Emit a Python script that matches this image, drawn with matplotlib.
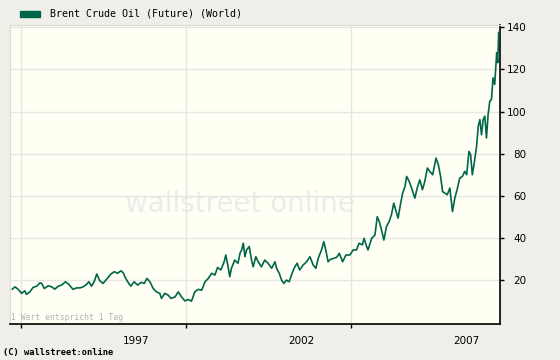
import matplotlib
matplotlib.use("Agg")
import matplotlib.pyplot as plt
import numpy as np

# Brent crude (decimal year, USD)
years = [1993.74, 1993.82, 1993.92, 1994.02, 1994.12, 1994.17, 1994.27, 1994.37, 1994.48, 1994.58,
         1994.63, 1994.71, 1994.83, 1994.93, 1995.03, 1995.13, 1995.23, 1995.35, 1995.45, 1995.58,
         1995.69, 1995.79, 1995.89, 1995.99, 1996.06, 1996.14, 1996.22, 1996.30, 1996.39, 1996.49,
         1996.60, 1996.73, 1996.83, 1996.93, 1997.03, 1997.10, 1997.17, 1997.27, 1997.33, 1997.43,
         1997.54, 1997.64, 1997.74, 1997.82, 1997.91, 1998.01, 1998.11, 1998.21, 1998.26, 1998.36,
         1998.46, 1998.55, 1998.67, 1998.77, 1998.87, 1998.97, 1999.07, 1999.17, 1999.27, 1999.37,
         1999.48, 1999.58, 1999.68, 1999.78, 1999.88, 1999.96, 2000.06, 2000.16, 2000.21, 2000.28,
         2000.33, 2000.38, 2000.48, 2000.58, 2000.64, 2000.69, 2000.74, 2000.79, 2000.84, 2000.92,
         2000.99, 2001.04, 2001.12, 2001.19, 2001.29, 2001.39, 2001.49, 2001.60, 2001.70, 2001.75,
         2001.83, 2001.90, 2001.97, 2002.05, 2002.13, 2002.20, 2002.28, 2002.37, 2002.45, 2002.55,
         2002.66, 2002.76, 2002.86, 2002.94, 2003.01, 2003.11, 2003.18, 2003.24, 2003.31, 2003.38,
         2003.57, 2003.65, 2003.75, 2003.85, 2003.97, 2004.07, 2004.17, 2004.25, 2004.35, 2004.40,
         2004.48, 2004.52, 2004.63, 2004.73, 2004.80, 2004.86, 2004.93, 2005.00, 2005.08, 2005.16,
         2005.23, 2005.30, 2005.36, 2005.43, 2005.51, 2005.57, 2005.64, 2005.69, 2005.77, 2005.84,
         2005.89, 2005.94, 2006.01, 2006.09, 2006.17, 2006.24, 2006.32, 2006.39, 2006.48, 2006.58,
         2006.65, 2006.72, 2006.78, 2006.85, 2006.92, 2007.00, 2007.08, 2007.15, 2007.22, 2007.30,
         2007.38, 2007.45, 2007.51, 2007.58, 2007.63, 2007.68, 2007.74, 2007.81, 2007.86, 2007.91,
         2007.96, 2008.01, 2008.06, 2008.11, 2008.16, 2008.21, 2008.26, 2008.31, 2008.36, 2008.42,
         2008.45, 2008.48, 2008.52]
prices = [15.7, 16.8, 15.6, 13.7, 14.9, 13.2, 14.4, 16.5, 17.1, 18.7,
          18.4, 16.0, 17.3, 16.8, 15.7, 17.1, 17.6, 19.2, 18.0, 15.6,
          16.3, 16.3, 16.8, 18.0, 19.2, 17.1, 19.2, 22.9, 19.7, 18.4,
          20.5, 22.9, 24.0, 23.2, 24.4, 23.5, 21.0, 18.4, 17.1, 19.2,
          17.6, 18.9, 18.4, 20.8, 19.2, 16.0, 14.4, 13.7, 11.3, 13.7,
          12.9, 11.3, 12.0, 14.4, 12.0, 10.1, 10.8, 10.0, 14.4, 15.6,
          15.2, 19.2, 20.8, 23.2, 22.4, 26.0, 24.8, 28.7, 31.9, 26.3,
          21.6, 25.6, 29.5, 28.0, 32.7, 34.3, 37.5, 31.1, 34.3, 35.9,
          29.5, 26.3, 31.1, 28.7, 26.3, 29.5, 28.0, 25.6, 28.7, 25.6,
          23.2, 20.0, 18.4, 20.0, 19.2, 22.4, 25.6, 28.0, 24.8, 27.1,
          28.7, 31.1, 27.1, 25.6, 30.3, 34.3, 38.2, 34.3, 28.7, 29.8,
          30.8, 32.7, 28.7, 31.9, 31.9, 34.3, 34.3, 37.5, 36.7, 39.8,
          35.9, 34.3, 39.8, 41.4, 50.1, 47.8, 43.8, 39.0, 45.4, 47.8,
          51.0, 56.5, 53.3, 49.4, 56.5, 61.3, 64.4, 69.2, 66.8, 63.7,
          61.3, 58.9, 63.7, 67.6, 62.9, 66.8, 73.2, 71.6, 70.0, 77.9,
          74.8, 69.2, 62.0, 61.3, 60.5, 63.7, 52.5, 58.9, 62.9, 68.4,
          69.2, 71.6, 70.0, 81.1, 79.5, 70.0, 75.6, 83.5, 93.0, 96.2,
          89.0, 96.2, 97.8, 87.5, 98.6, 104.9, 105.7, 116.0, 112.9, 128.0,
          123.2, 137.5, 138.2]

year_ticks = [1994, 1999, 2004]
year_labels = ["1997", "2002", "2007"]
label_pos = [1997.5, 2002.5, 2007.5]
price_ticks = [20, 40, 60, 80, 100, 120, 140]

GREEN = "#00664a"
BG = "#efeee8"
PANEL = "#fffff4"

fig = plt.figure(figsize=(5.6, 3.6), dpi=100, facecolor=BG)
ax = fig.add_axes([10/560, 36/360, 490/560, 299/360], facecolor=PANEL)

# watermark
ax.text(0.47, 0.40, "wallstreet online", transform=ax.transAxes, ha="center", va="center",
        fontsize=20, color="#ececea", zorder=0)

ax.plot(years, prices, color=GREEN, lw=1.2, zorder=3)

ax.set_xlim(1993.67, 2008.52)
ax.set_ylim(-0.85, 141.1)

ax.yaxis.tick_right()
ax.set_yticks(price_ticks)
ax.tick_params(axis="y", direction="out", length=3, width=1, pad=16, labelsize=7.5, colors="black")
for t in ax.get_yticklabels():
    t.set_ha("right")

ax.set_xticks(year_ticks)
ax.set_xticklabels([])
ax.set_xticks(label_pos, minor=True)
ax.set_xticklabels(year_labels, minor=True)
ax.tick_params(axis="x", which="major", direction="out", length=3, width=1)
ax.tick_params(axis="x", which="minor", length=0, pad=9, labelsize=7.5)

ax.grid(True, which="major", color="#e6e6e2", lw=1, zorder=1)
ax.set_axisbelow(True)

for s in ["top", "left"]:
    ax.spines[s].set_color("#dcdcd6")
for s in ["right", "bottom"]:
    ax.spines[s].set_color("black")
    ax.spines[s].set_linewidth(1.2)

ax.text(0.002, 0.006, "1 Wert entspricht 1 Tag", transform=ax.transAxes, fontsize=5.8,
        family="DejaVu Sans Mono", color="#b4b4b0", va="bottom", ha="left")

# legend
fig.patches.append(plt.Rectangle((20/560, 1 - 17/360), 20/560, 6/360, transform=fig.transFigure,
                                 color=GREEN, figure=fig))
fig.text(50/560, 1 - 14/360, "Brent Crude Oil (Future) (World)", family="DejaVu Sans Mono",
         fontsize=7.2, va="center", ha="left")
fig.text(3/560, 1 - 353/360, "(C) wallstreet:online", family="DejaVu Sans Mono",
         fontsize=6.3, fontweight="bold", va="center", ha="left")

fig.savefig("out.png", dpi=100, facecolor=BG)
